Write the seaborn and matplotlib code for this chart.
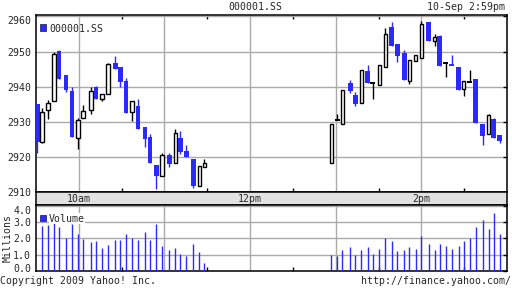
import numpy as np
import pandas as pd
import matplotlib
matplotlib.use("Agg")
import matplotlib.pyplot as plt
import seaborn as sns
from matplotlib.patches import Rectangle
from matplotlib.transforms import ScaledTranslation

# ---------------- data ----------------
times = ["09:31:00", "09:34:15", "09:38:30", "09:42:40", "09:46:10", "09:51:05", "09:55:20",
         "09:59:30", "10:03:00", "10:08:40", "10:12:10", "10:16:20", "10:20:35", "10:25:30",
         "10:29:00", "10:33:10", "10:37:25", "10:41:35", "10:46:30", "10:50:00", "10:54:15",
         "10:58:25", "11:03:20", "11:07:35", "11:11:05", "11:15:15", "11:20:10", "11:24:25",
         "11:27:55",
         "12:57:00", "13:01:10", "13:04:40", "13:10:15", "13:13:50", "13:18:00", "13:22:25",
         "13:25:55", "13:30:40", "13:34:50", "13:39:05", "13:43:15", "13:48:10", "13:51:40",
         "13:55:55", "14:00:05", "14:05:00", "14:09:15", "14:12:45", "14:16:55", "14:21:10",
         "14:26:05", "14:29:35", "14:33:45", "14:38:00", "14:42:55", "14:47:05", "14:50:35",
         "14:54:50"]
opens = [2935.0, 2924.3, 2933.4, 2936.0, 2950.1, 2943.2, 2938.9, 2925.5, 2931.2, 2933.4,
         2939.8, 2936.5, 2938.0, 2946.8, 2945.7, 2941.5, 2932.8, 2934.6, 2928.4, 2925.8,
         2917.6, 2914.5, 2920.4, 2918.2, 2925.5, 2921.6, 2919.3, 2911.8, 2917.1,
         2918.3, 2930.4, 2929.4, 2940.9, 2937.5, 2935.4, 2944.5, 2940.9, 2940.5, 2945.5,
         2957.1, 2952.0, 2949.7, 2941.7, 2947.2, 2948.1, 2958.3, 2952.9, 2954.3, 2946.6,
         2946.3, 2945.7, 2939.4, 2941.2, 2942.3, 2929.5, 2926.5, 2930.9, 2926.1]
highs = [2935.0, 2933.8, 2936.1, 2949.8, 2950.4, 2943.2, 2940.0, 2931.0, 2934.8, 2940.0,
         2940.2, 2938.0, 2946.6, 2948.6, 2945.7, 2942.6, 2936.0, 2936.4, 2928.4, 2926.4,
         2917.6, 2921.1, 2921.1, 2928.0, 2927.5, 2923.3, 2919.3, 2917.5, 2919.3,
         2929.5, 2932.3, 2939.0, 2942.0, 2938.5, 2944.8, 2946.3, 2940.9, 2946.2, 2956.7,
         2958.5, 2952.0, 2950.4, 2947.7, 2949.1, 2958.8, 2958.3, 2954.9, 2954.8, 2946.6,
         2949.1, 2945.7, 2941.7, 2944.6, 2942.3, 2929.5, 2932.2, 2931.1, 2926.1]
lows = [2921.2, 2923.9, 2930.7, 2936.0, 2942.2, 2938.4, 2925.6, 2922.3, 2931.2, 2932.1,
        2936.5, 2935.9, 2938.0, 2945.1, 2939.9, 2932.5, 2930.2, 2927.9, 2922.8, 2918.2,
        2910.9, 2914.5, 2917.1, 2918.2, 2920.8, 2920.0, 2911.1, 2911.8, 2917.1,
        2918.3, 2930.4, 2929.4, 2938.2, 2934.6, 2935.4, 2941.0, 2936.4, 2940.5, 2945.5,
        2951.7, 2947.0, 2941.9, 2940.7, 2947.2, 2948.1, 2952.9, 2951.6, 2945.8, 2942.7,
        2946.2, 2939.0, 2937.3, 2941.2, 2929.6, 2923.4, 2926.5, 2925.4, 2923.9]
closes = [2924.3, 2932.8, 2935.4, 2949.4, 2942.2, 2939.0, 2925.6, 2930.6, 2933.0, 2938.8,
          2936.5, 2938.0, 2946.5, 2945.1, 2941.3, 2932.5, 2936.0, 2927.9, 2925.1, 2918.2,
          2914.5, 2920.6, 2918.0, 2926.7, 2921.4, 2920.0, 2911.6, 2917.5, 2918.4,
          2929.5, 2930.4, 2939.0, 2938.7, 2935.0, 2944.8, 2941.0, 2940.9, 2946.2, 2955.0,
          2951.7, 2948.7, 2941.9, 2947.7, 2949.1, 2957.8, 2952.9, 2954.0, 2945.8, 2946.6,
          2946.2, 2939.0, 2941.7, 2941.2, 2929.6, 2925.9, 2931.8, 2925.4, 2924.4]
volumes_m = [np.nan, 2.79, 2.85, 2.98, 2.73, 2.03, 2.90, 2.30, 1.99, 1.75, 1.85, 1.42, 1.62,
             1.91, 1.91, 2.24, 2.03, 1.91, 2.40, 1.91, 2.90, 1.54, 1.29, 1.42, 1.05, 0.92,
             1.66, 1.17, 0.51,
             0.99, 0.92, 1.29, 1.48, 0.99, 1.29, 1.48, 1.05, 1.36, 2.03, 1.85, 1.23, 1.29,
             1.48, 1.36, 2.16, 1.66, 1.29, 1.66, 1.54, 1.36, 1.54, 1.85, 2.03, 2.71, 3.14,
             2.59, 3.57, 2.28]
price_ticks = [2910, 2920, 2930, 2940, 2950, 2960]
volume_ticks = [0.0, 1.0, 2.0, 3.0, 4.0]
time_labels = {10: "10am", 12: "12pm", 14: "2pm"}
symbol = "000001.SS"
stamp = "10-Sep 2:59pm"

# ---------------- style ----------------
sns.set_theme(style="white")
plt.rcParams["font.family"] = ["DejaVu Sans Mono"]
plt.rcParams["font.size"] = 7.1
BLUE = "#2a2aff"
GRID = "#aaaaaa"
FS = 7.1

df = pd.DataFrame({"time": times, "open": opens, "high": highs, "low": lows,
                   "close": closes, "volume": volumes_m})
td = pd.to_timedelta(df["time"])
df["hour"] = td.dt.total_seconds() / 3600.0

W, H = 512, 288
fig = plt.figure(figsize=(W / 100, H / 100), dpi=100)
fig.patch.set_facecolor("white")


def px_axes(l, t, r, b):
    return fig.add_axes([l / W, 1 - b / H, (r - l) / W, (b - t) / H])


ax = px_axes(36, 15, 507, 192)
band = px_axes(36, 192, 507, 205)
axv = px_axes(36, 205, 507, 271)

XMIN, XMAX = 9.5, 15.0
px_per_hour = (507 - 36) / (XMAX - XMIN)
blue_w = 4.6 / px_per_hour
white_w = 3.5 / px_per_hour

# ---------------- candles ----------------
for _, r in df.iterrows():
    o, h, l, c, x = r["open"], r["high"], r["low"], r["close"], r["hour"]
    if abs(c - o) < 0.3:
        col = BLUE if c < o else "black"
        ax.vlines(x, l, h, color=col, lw=1.0, zorder=3)
        ax.hlines(o, x - blue_w / 2, x + blue_w / 2, color=col, lw=1.4, zorder=4)
    elif c < o:
        ax.vlines(x, l, h, color=BLUE, lw=1.0, zorder=3)
        ax.bar(x, o - c, bottom=c, width=blue_w, color=BLUE, lw=0, zorder=4)
    else:
        ax.vlines(x, l, h, color="black", lw=1.0, zorder=3)
        ax.bar(x, c - o, bottom=o, width=white_w, facecolor="white",
               edgecolor="black", lw=1.0, zorder=4)

ax.set_xlim(XMIN, XMAX)
ax.set_ylim(2910, 2960.4)
ax.set_xticks(range(10, 16))
ax.set_xticks([10.5, 11.5, 12.5, 13.5, 14.5], minor=True)
ax.set_xticklabels([])
ax.set_yticks(price_ticks)
ax.set_yticklabels([str(v) for v in price_ticks], fontsize=FS)
ax.grid(True, which="major", color=GRID, lw=1.0)
ax.tick_params(axis="x", which="major", length=0)
ax.tick_params(axis="x", which="minor", direction="in", length=3, width=1,
               color="black", top=True, bottom=True)
ax.tick_params(axis="y", which="major", left=False, right=True, direction="in",
               length=3, width=1, color="black", pad=3.5, labelsize=FS)
ax.get_yticklabels()[-1].set_va("top")
for s in ax.spines.values():
    s.set_color("black")
    s.set_linewidth(1.1)
ax.set_xlabel("")
ax.set_ylabel("")

# ---------------- time band ----------------
band.set_facecolor("#e2e2e2")
band.set_xlim(XMIN, XMAX)
band.set_ylim(0, 1)
band.set_xticks([])
band.set_yticks([])
for s in band.spines.values():
    s.set_color("black")
    s.set_linewidth(1.1)
for hr, lab in time_labels.items():
    band.text(hr, 0.45, lab, ha="center", va="center", fontsize=FS)

# ---------------- volume ----------------
vd = df.dropna(subset=["volume"])
axv.vlines(vd["hour"], 0, vd["volume"], color=BLUE, lw=1.0, zorder=3)
axv.set_xlim(XMIN, XMAX)
axv.set_ylim(0, 4.05)
axv.set_xticks(range(10, 16))
axv.set_xticks([10.5, 11.5, 12.5, 13.5, 14.5], minor=True)
axv.set_xticklabels([])
axv.set_yticks(volume_ticks)
axv.set_yticklabels([f"{v:.1f}" for v in volume_ticks], fontsize=FS)
axv.grid(True, which="major", color=GRID, lw=1.0)
axv.tick_params(axis="x", which="major", length=0)
axv.tick_params(axis="x", which="minor", direction="in", length=3, width=1,
                color="black", top=False, bottom=True)
axv.tick_params(axis="y", which="major", left=False, right=True, direction="in",
                length=3, width=1, color="black", pad=3.5, labelsize=FS)
vlabels = axv.get_yticklabels()
vlabels[-1].set_va("top")
vlabels[0].set_transform(vlabels[0].get_transform() +
                         ScaledTranslation(0, 2.5 / 100, fig.dpi_scale_trans))
for s in axv.spines.values():
    s.set_color("black")
    s.set_linewidth(1.1)
axv.set_xlabel("")
axv.set_ylabel("")

# ---------------- legends & texts ----------------
fig.patches.append(Rectangle((40 / W, 1 - 30.5 / H), 6 / W, 6 / H, transform=fig.transFigure,
                             facecolor=BLUE, edgecolor="#101060", lw=0.5, zorder=10))
fig.text(49 / W, 1 - 28.7 / H, symbol, ha="left", va="center", fontsize=FS, zorder=10)
fig.patches.append(Rectangle((40 / W, 1 - 220.5 / H), 6 / W, 6 / H, transform=fig.transFigure,
                             facecolor=BLUE, edgecolor="#101060", lw=0.5, zorder=10))
fig.text(49 / W, 1 - 218.7 / H, "Volume", ha="left", va="center", fontsize=FS, zorder=10,
         bbox=dict(facecolor="white", edgecolor="none", pad=0.3))

fig.text(255 / W, 1 - 7 / H, symbol, ha="center", va="center", fontsize=FS)
fig.text(505 / W, 1 - 7 / H, stamp, ha="right", va="center", fontsize=FS)
fig.text(7.5 / W, 1 - 237.5 / H, "Millions", rotation=90, ha="center", va="center", fontsize=FS)
fig.text(0 / W, 1 - 280.5 / H, "Copyright 2009 Yahoo! Inc.", ha="left", va="center", fontsize=FS)
fig.text(511 / W, 1 - 280.5 / H, "http://finance.yahoo.com/", ha="right", va="center", fontsize=FS)

fig.savefig("out.png", dpi=100, facecolor="white")
